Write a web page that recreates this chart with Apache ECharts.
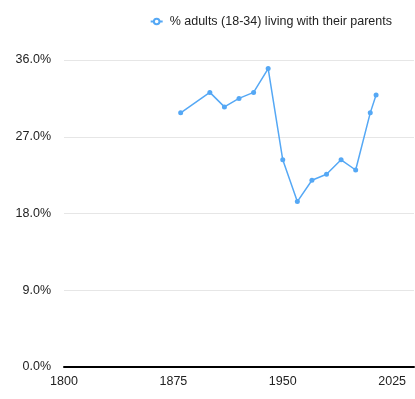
<!DOCTYPE html>
<html>
<head>
    <meta charset="utf-8">
    <script src="https://cdn.jsdelivr.net/npm/echarts@6/dist/echarts.min.js"></script>
    <style>
        html, body { margin: 0; padding: 0; background: #fff; }
    </style>
</head>
<body>
    <div id="main" style="width:415px;height:399px;"></div>
    <script type="text/javascript">
        var seriesName = '% adults (18-34) living with their parents';
        var years = [1880, 1900, 1910, 1920, 1930, 1940, 1950, 1960, 1970, 1980, 1990, 2000, 2010, 2014];
        var shares = [29.8, 32.2, 30.5, 31.5, 32.2, 35.0, 24.3, 19.4, 21.9, 22.6, 24.3, 23.1, 29.8, 31.9];
        var xTicks = [1800, 1875, 1950, 2025];

        var points = [];
        for (var i = 0; i < years.length; i++) {
            points.push([years[i], shares[i]]);
        }

        var myChart = echarts.init(document.getElementById('main'));

        var option = {
            animation: false,
            textStyle: { fontFamily: 'Liberation Sans, Arial, sans-serif' },
            legend: {
                top: 10,
                right: 18,
                itemWidth: 12,
                itemHeight: 7,
                itemGap: 6,
                itemStyle: { color: '#fff', borderColor: '#55a8f5', borderWidth: 2 },
                textStyle: { fontSize: 12.5, color: '#222', padding: [0, 0, 0, 2] },
                data: [seriesName]
            },
            grid: { left: 64, right: 1, top: 60, bottom: 32, containLabel: false },
            xAxis: {
                type: 'value',
                min: 1800,
                max: 2040,
                interval: 75,
                axisLine: { show: true, lineStyle: { color: '#000', width: 2 } },
                axisTick: { show: false },
                splitLine: { show: false },
                axisLabel: {
                    color: '#222',
                    fontSize: 12.5,
                    margin: 8,
                    customValues: xTicks,
                    formatter: function (v) { return String(v); }
                }
            },
            yAxis: {
                type: 'value',
                min: 0,
                max: 36,
                interval: 9,
                axisLine: { show: false },
                axisTick: { show: false },
                splitLine: { show: true, lineStyle: { color: '#e6e6e6', width: 1 } },
                axisLabel: {
                    color: '#222',
                    fontSize: 12.5,
                    margin: 13,
                    formatter: function (v) { return v.toFixed(1) + '%'; }
                }
            },
            series: [{
                name: seriesName,
                type: 'line',
                data: points,
                symbol: 'circle',
                symbolSize: 5,
                color: '#55a8f5',
                lineStyle: { width: 1.5, color: '#55a8f5' },
                itemStyle: { color: '#55a8f5' }
            }]
        };

        myChart.setOption(option);
    </script>
</body>
</html>
